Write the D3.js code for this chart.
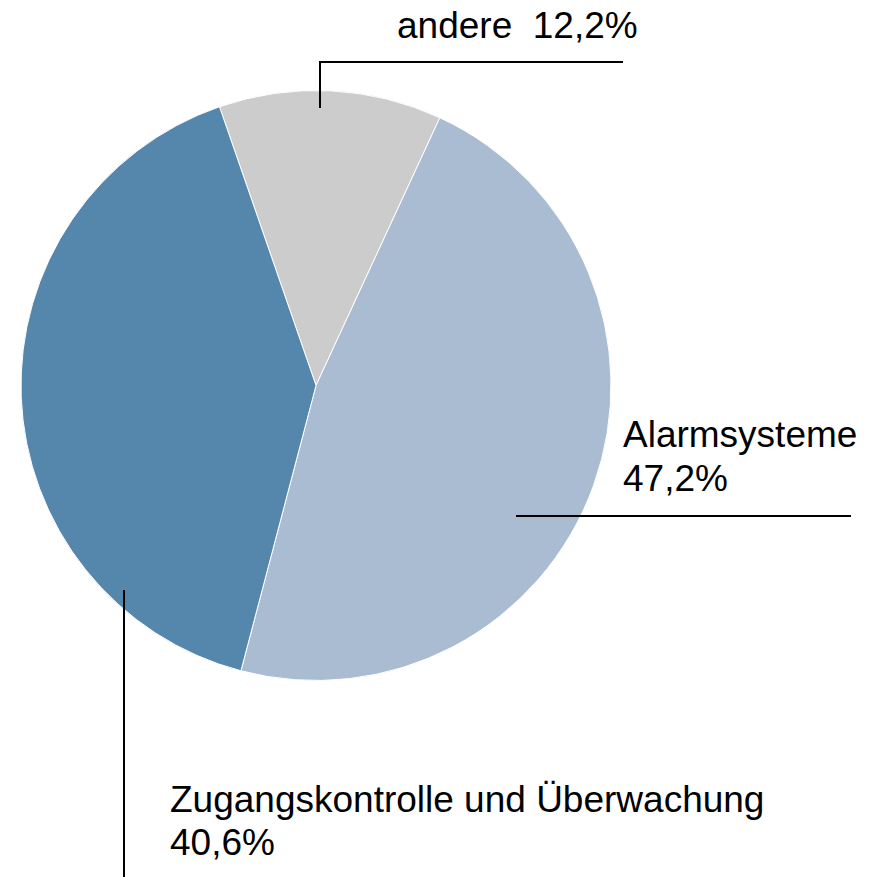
<!DOCTYPE html>
<html><head><meta charset="utf-8">
<script src="https://cdn.jsdelivr.net/npm/d3@7"></script>
<style>html,body{margin:0;padding:0;background:#fff}svg{display:block}</style>
</head><body>
<script>
const categories = ["andere", "Alarmsysteme", "Zugangskontrolle und Überwachung"];
const values = [12.2, 47.2, 40.6];
const valueLabels = ["12,2%", "47,2%", "40,6%"];
const colors = ["#cccccc", "#aabcd2", "#5586ab"];

const W = 879, H = 877;
const cx = 316, cy = 385.5, R = 295;
const startDeg = -19.1;

const svg = d3.select("body").append("svg").attr("width", W).attr("height", H);
const g = svg.append("g").attr("transform", `translate(${cx},${cy})`);

const pie = d3.pie().sort(null).value(d => d)
  .startAngle(startDeg * Math.PI / 180)
  .endAngle(startDeg * Math.PI / 180 + 2 * Math.PI);
const arc = d3.arc().innerRadius(0).outerRadius(R);
const arcs = pie(values);

g.selectAll("path").data(arcs).enter().append("path")
  .attr("d", arc)
  .attr("fill", (d, i) => colors[i])
  .attr("stroke", "#fff").attr("stroke-width", 1);

const font = "'Liberation Sans', Arial, sans-serif";
const fs = 37;
function txt(x, y, s) {
  svg.append("text").attr("x", x).attr("y", y).attr("font-family", font)
    .attr("font-size", fs).attr("fill", "#000").text(s);
}
function line(pts) {
  svg.append("path").attr("d", d3.line()(pts)).attr("fill", "none")
    .attr("stroke", "#000").attr("stroke-width", 2);
}

// andere
line([[320, 108], [320, 62], [623, 62]]);
txt(397, 38, categories[0] + "\u00a0\u00a0" + valueLabels[0]);
// Alarmsysteme
line([[516, 516], [851, 516]]);
txt(623, 447, categories[1]);
txt(623, 491, valueLabels[1]);
// Zugang
line([[124, 590], [124, 877]]);
txt(170, 812, categories[2]);
txt(170, 855, valueLabels[2]);
</script>
</body></html>
